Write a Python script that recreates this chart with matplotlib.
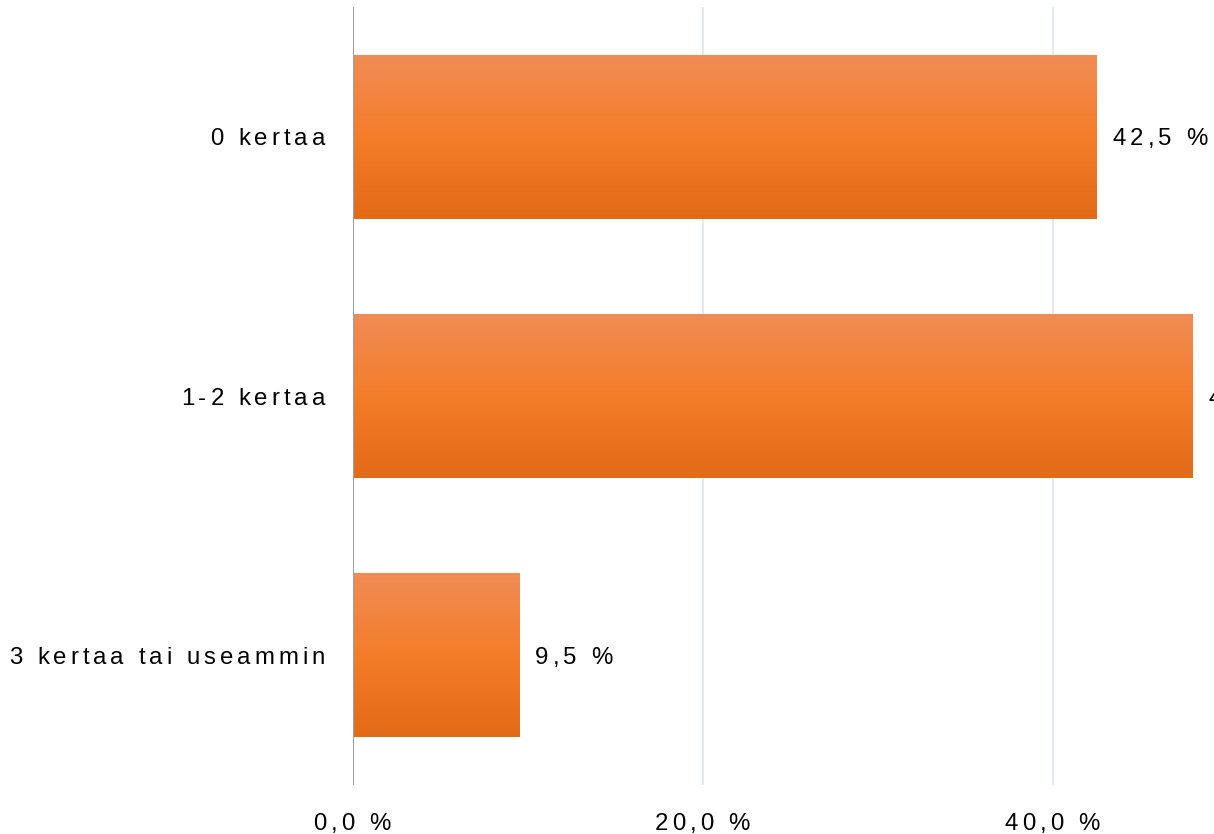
import numpy as np
import matplotlib
matplotlib.use("Agg")
from matplotlib import pyplot as plt
from matplotlib.colors import LinearSegmentedColormap
from matplotlib.font_manager import FontProperties, findfont, get_font

# Data
categories = ["0 kertaa", "1-2 kertaa", "3 kertaa tai useammin"]
values = [42.5, 48.0, 9.5]
value_labels = ["42,5 %", "48,0 %", "9,5 %"]
xticks = [0, 20, 40]
xtick_labels = ["0,0 %", "20,0 %", "40,0 %"]

W, H, DPI = 1214, 834, 100
FS_PX = 24.0
FS = FS_PX * 72 / DPI
SPACING = 4.0  # letter spacing, px
CAP = 0.716 * FS_PX

fp = FontProperties(family="Liberation Sans", size=FS)
ftfont = get_font(findfont(fp))
ftfont.set_size(FS, DPI)


def advance(c):
    return ftfont.load_char(ord(c)).linearHoriAdvance / 65536.0


def spaced_text(fig, x, y, s, ha="left"):
    # x, y in display pixels (y up), y is vertical center of caps
    adv = [advance(c) for c in s]
    total = sum(adv) + SPACING * (len(s) - 1)
    if ha == "right":
        x0 = x - total
    elif ha == "center":
        x0 = x - total / 2
    else:
        x0 = x
    base = y - CAP / 2
    cx = x0
    for c, a in zip(s, adv):
        if c != " ":
            fig.text((cx + a / 2) / W, base / H, c, ha="center", va="baseline",
                     fontproperties=fp, color="#000000")
        cx += a + SPACING


fig = plt.figure(figsize=(W / DPI, H / DPI), dpi=DPI)
ax_left, ax_top, ax_bottom = 353, 7, 785
ax = fig.add_axes([ax_left / W, 1 - ax_bottom / H, 1 - ax_left / W, (ax_bottom - ax_top) / H])

xmax = (W - ax_left) / 17.5
ypos = np.arange(len(categories))
bar_h = 0.633

cmap = LinearSegmentedColormap.from_list("bar", ["#f08c55", "#f47d2a", "#e36a17"])
grad = np.linspace(0, 1, 256).reshape(-1, 1)

bars = ax.barh(ypos, values, height=bar_h, color="none", edgecolor="none", zorder=2)
for b in bars:
    x0, y0 = b.get_x(), b.get_y()
    w, h = b.get_width(), b.get_height()
    im = ax.imshow(grad, cmap=cmap, aspect="auto", origin="upper",
                   extent=(x0, x0 + w, y0 + h, y0), zorder=2, interpolation="bilinear")
    im.set_clip_path(b)

ax.set_xlim(0, xmax)
ax.set_ylim(len(categories) - 0.5, -0.5)

for x in xticks[1:]:
    ax.axvline(x, color="#e2e8f0", lw=1.3, zorder=1)
ax.axvline(0, color="#a0a0a0", lw=1.5, zorder=3)

for s in ax.spines.values():
    s.set_visible(False)
ax.set_xticks([])
ax.set_yticks([])
ax.set_facecolor("none")

fig.canvas.draw()
tr = ax.transData
for i, (cat, v, lab) in enumerate(zip(categories, values, value_labels)):
    _, yc = tr.transform((0, i))
    spaced_text(fig, ax_left - 28, yc, cat, ha="right")
    xe, _ = tr.transform((v, i))
    spaced_text(fig, xe + 16, yc, lab, ha="left")

for x, lab in zip(xticks, xtick_labels):
    xd, _ = tr.transform((x, 0))
    spaced_text(fig, xd - 1, H - 821, lab, ha="center")

fig.savefig("out.png", dpi=DPI)
